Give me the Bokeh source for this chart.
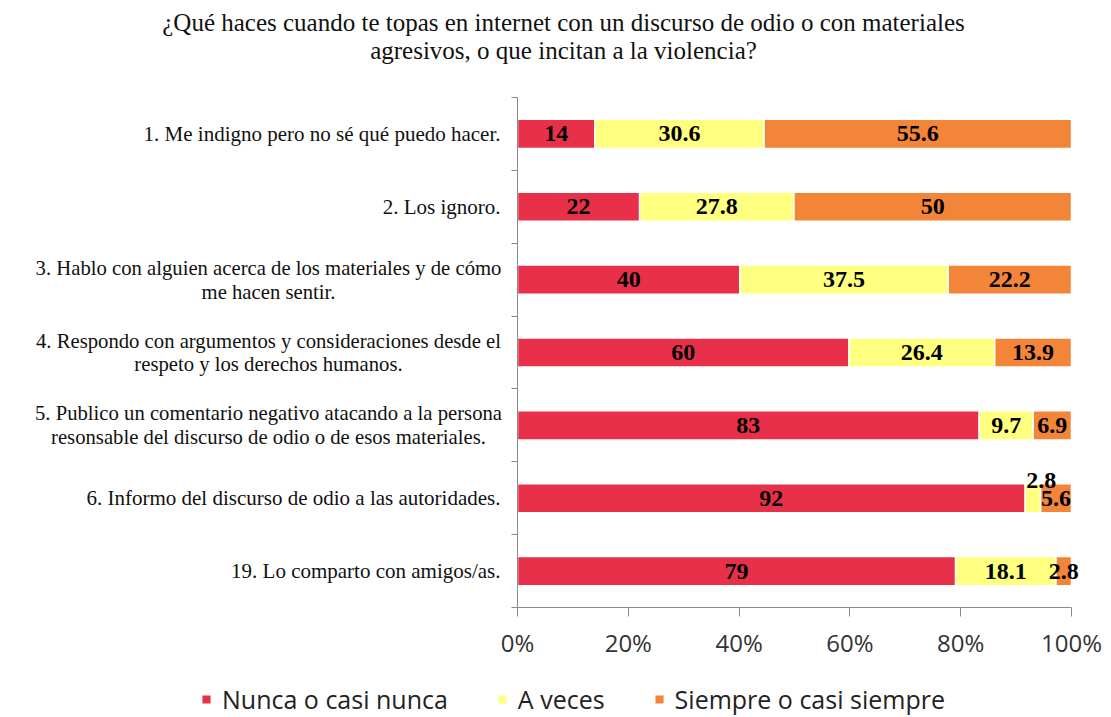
from bokeh.plotting import figure
from bokeh.models import (ColumnDataSource, Range1d, FixedTicker, NumeralTickFormatter,
                          Legend, LegendItem, LinearAxis)
from bokeh.core.properties import value
from bokeh.embed import file_html
from bokeh.resources import INLINE

# ---------------- data ----------------
title_lines = [
    "¿Qué haces cuando te topas en internet con un discurso de odio o con materiales",
    "agresivos, o que incitan a la violencia?",
]
categories = [
    "1. Me indigno pero no sé qué puedo hacer.",
    "2. Los ignoro.",
    "3. Hablo con alguien acerca de los materiales y de cómo\nme hacen sentir.",
    "4. Respondo con argumentos y consideraciones desde el\nrespeto y los derechos humanos.",
    "5. Publico un comentario negativo atacando a la persona\nresonsable del discurso de odio o de esos materiales.",
    "6. Informo del discurso de odio a las autoridades.",
    "19. Lo comparto con amigos/as.",
]
series_names = ["Nunca o casi nunca", "A veces", "Siempre o casi siempre"]
nunca = [14, 22, 40, 60, 83, 92, 79]
a_veces = [30.6, 27.8, 37.5, 26.4, 9.7, 2.8, 18.1]
siempre = [55.6, 50, 22.2, 13.9, 6.9, 5.6, 2.8]
x_ticks = [0, 0.2, 0.4, 0.6, 0.8, 1.0]

# ---------------- layout / style ----------------
W, H = 1110, 716
X0, X1 = 517, 1071          # pixel position of 0% and 100%
Y0, Y1 = 97, 607            # pixel top of first band / bottom of last band
colors = ["#E8304A", "#FFFF80", "#F28538"]
SERIF = "Liberation Serif"
SANS = "Open Sans"
AXIS_COLOR = "#8a8a8a"
raised = {(5, 1)}           # (row, series) label shown above its bar

n = len(categories)
sx = X1 - X0
band = (Y1 - Y0) / n
series = [nunca, a_veces, siempre]
totals = [sum(s[i] for s in series) for i in range(n)]
rows = [i + 0.5 for i in range(n)]

p = figure(width=W, height=H,
           x_range=Range1d(-X0 / sx, (W - X0) / sx),
           y_range=Range1d((H - Y0) / band, -Y0 / band),
           output_backend="svg", toolbar_location=None,
           min_border=0, x_axis_type=None, y_axis_type=None)
p.outline_line_color = None
p.grid.visible = False

xaxis = LinearAxis(ticker=FixedTicker(ticks=x_ticks), formatter=NumeralTickFormatter(format="0%"),
                   fixed_location=n, bounds=(0, 1))
xaxis.axis_line_color = AXIS_COLOR
xaxis.major_tick_line_color = AXIS_COLOR
xaxis.major_tick_out = 9
xaxis.major_tick_in = 0
xaxis.minor_tick_line_color = None
xaxis.major_label_standoff = 9
xaxis.major_label_text_font = SANS
xaxis.major_label_text_font_size = "24px"
xaxis.major_label_text_color = "#333333"
p.add_layout(xaxis, "below")

yaxis = LinearAxis(ticker=FixedTicker(ticks=[], minor_ticks=list(range(n + 1))),
                   fixed_location=0, bounds=(0, n))
yaxis.axis_line_color = AXIS_COLOR
yaxis.minor_tick_line_color = AXIS_COLOR
yaxis.minor_tick_out = 6
yaxis.minor_tick_in = 0
yaxis.major_tick_line_color = None
yaxis.major_label_text_font_size = "0px"
p.add_layout(yaxis, "left")

# bars
renderers = []
lab_x, lab_y, lab_t = [], [], []
cum = [0.0] * n
for k, s in enumerate(series):
    left = [cum[i] / totals[i] for i in range(n)]
    right = [(cum[i] + s[i]) / totals[i] for i in range(n)]
    src = ColumnDataSource(dict(y=rows, left=left, right=right))
    r = p.hbar(y="y", left="left", right="right", height=0.4, source=src,
               fill_color=colors[k], line_color="white", line_width=1.5)
    renderers.append(r)
    for i in range(n):
        raise_it = (i, k) in raised
        lab_x.append((left[i] + right[i]) / 2 + (0.015 if raise_it else 0))
        lab_y.append(rows[i] - (0.24 if raise_it else 0))
        lab_t.append(f"{s[i]:g}")
        cum[i] += s[i]

p.text(x=lab_x, y=lab_y, text=lab_t, text_font=value(SERIF), text_font_style="bold",
       text_font_size="24px", text_align="center", text_baseline="middle", text_color="black")

# category labels
single = [i for i in range(n) if "\n" not in categories[i]]
multi = [i for i in range(n) if "\n" in categories[i]]
p.text(x=[(500 - X0) / sx] * len(single), y=[rows[i] for i in single],
       text=[categories[i] for i in single], text_align="right", text_baseline="middle",
       text_font=value(SERIF), text_font_size="21px", text_color="#111111")
p.text(x=[(268 - X0) / sx] * len(multi), y=[rows[i] for i in multi],
       text=[categories[i] for i in multi], text_align="center", text_baseline="middle",
       text_font=value(SERIF), text_font_size="20.7px", text_line_height=1.08, text_color="#111111")

# title
p.text(x=[(563 - X0) / sx] * 2, y=[(22 - Y0) / band, (50 - Y0) / band], text=title_lines,
       text_align="center", text_baseline="middle", text_font=value(SERIF),
       text_font_size="25px", text_color="#111111")

# legend
legend = Legend(items=[LegendItem(label=series_names[k], renderers=[renderers[k]]) for k in range(3)],
                orientation="horizontal", location=(200, 0), padding=0, margin=0,
                spacing=48, label_standoff=10, glyph_width=12, glyph_height=12,
                label_text_font=SANS, label_text_font_size="25px", label_text_color="#222222",
                border_line_color=None, background_fill_alpha=0)
p.add_layout(legend, "center")

open("out.html", "w").write(file_html(p, INLINE))
